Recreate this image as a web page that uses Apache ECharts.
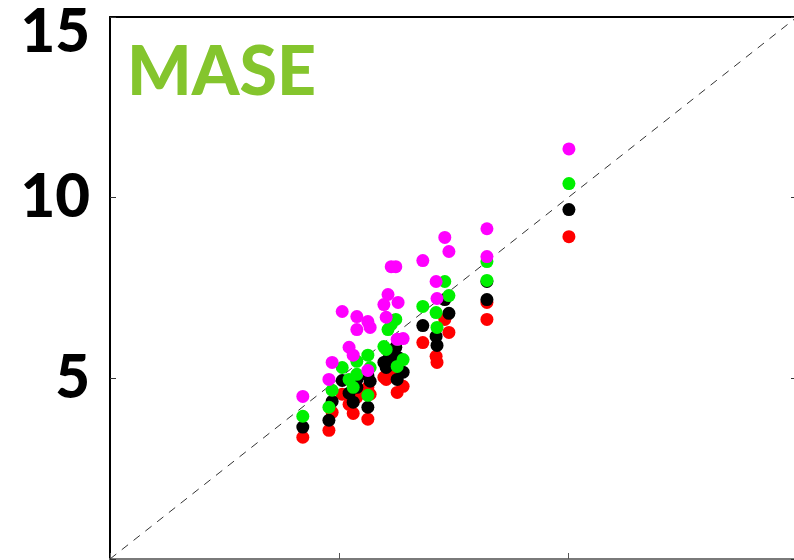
<!DOCTYPE html>
<html>
<head>
<meta charset="utf-8">
<style>
  html, body { margin: 0; padding: 0; background: #fff; }
  #chart { width: 794px; height: 560px; }
</style>
<script src="https://cdn.jsdelivr.net/npm/echarts@6/dist/echarts.min.js"></script>
</head>
<body>
<div id="chart"></div>
<script>
// Reference error (x) for each model and the error of four competing forecasts (y)
var referenceErr = [4.21, 4.78, 4.85, 5.07, 5.22, 5.31, 5.39, 5.63, 5.68, 5.39, 5.63, 5.98, 6.03, 6.07,
                    6.14, 6.24, 6.27, 6.29, 6.40, 6.83, 7.12, 7.14, 7.31, 7.40, 8.23, 8.23, 10.02];
var redErr     = [3.37, 3.56, 4.06, 4.56, 4.28, 4.03, 4.48, 3.87, 4.56, 4.64, 4.75, 5.03, 4.97, 5.19,
                  5.39, 5.52, 4.61, 5.25, 4.78, 5.99, 5.61, 5.44, 6.63, 6.27, 7.10, 6.63, 8.92];
var blackErr   = [3.65, 3.84, 4.36, 4.94, 4.59, 4.34, 4.75, 4.20, 4.92, 4.97, 5.08, 5.44, 5.30, 5.52,
                  5.75, 5.86, 4.97, 5.58, 5.17, 6.46, 6.16, 5.91, 7.18, 6.80, 7.68, 7.18, 9.67];
var greenErr   = [3.95, 4.20, 4.67, 5.30, 4.97, 4.75, 5.11, 4.53, 5.30, 5.47, 5.64, 5.88, 5.80, 6.35,
                  6.49, 6.63, 5.33, 6.08, 5.52, 6.99, 6.82, 6.41, 7.68, 7.29, 8.23, 7.71, 10.39];
var magentaErr = [4.50, 4.97, 5.44, 6.85, 5.86, 5.64, 6.35, 5.22, 6.41, 6.71, 6.57, 7.04, 6.69, 7.32,
                  8.09, 8.09, 6.08, 7.10, 6.10, 8.26, 7.68, 7.21, 8.90, 8.51, 9.14, 8.37, 11.35];

var axisMin = 0, axisMax = 15, axisStep = 5;
var panelTitle = 'MASE';

function pairs(ys) {
  return referenceErr.map(function (x, i) { return [x, ys[i]]; });
}

var chart = echarts.init(document.getElementById('chart'), null, { renderer: 'canvas' });

function dotSeries(name, ys, color) {
  return {
    name: name, type: 'scatter', data: pairs(ys),
    symbol: 'circle', symbolSize: 13,
    itemStyle: { color: color, opacity: 1 },
    silent: true, z: 3
  };
}

var frameAxis = { show: false };

chart.setOption({
  animation: false,
  backgroundColor: '#fff',
  title: {
    text: panelTitle, left: 122, top: 34,
    textStyle: { fontFamily: 'Lato', fontWeight: 900, fontSize: 68, color: '#84c52d' }
  },
  // the panel runs a few pixels past the right edge of the page
  grid: { left: 110, top: 17, width: 687, height: 542, containLabel: false, outerBoundsMode: 'none' },
  xAxis: [{
    type: 'value', min: axisMin, max: axisMax, interval: axisStep, position: 'bottom',
    axisLine: { show: true, onZero: false, lineStyle: { color: '#7a7a7a', width: 2 } },
    axisTick: { show: true, inside: true, length: 6, lineStyle: { color: '#555', width: 1 } },
    axisLabel: frameAxis, splitLine: frameAxis
  }, {
    type: 'value', min: axisMin, max: axisMax, interval: axisStep, position: 'top',
    axisLine: { show: true, onZero: false, lineStyle: { color: '#000', width: 2 } },
    axisTick: frameAxis, axisLabel: frameAxis, splitLine: frameAxis
  }],
  yAxis: [{
    type: 'value', min: axisMin, max: axisMax, interval: axisStep, position: 'left',
    axisLine: { show: true, onZero: false, lineStyle: { color: '#000', width: 2 } },
    axisTick: { show: true, inside: true, length: 6, lineStyle: { color: '#333', width: 1 } },
    axisLabel: {
      margin: 20,
      fontFamily: 'Lato', fontWeight: 900, fontSize: 60, color: '#000',
      formatter: function (v) {
        if (v === axisMin) return '';
        if (v === axisMax) return '{top|' + v + '}';
        return String(v);
      },
      rich: {
        top: { fontFamily: 'Lato', fontWeight: 900, fontSize: 60, color: '#000', padding: [32, 0, 0, 0] }
      }
    },
    splitLine: frameAxis
  }, {
    type: 'value', min: axisMin, max: axisMax, interval: axisStep, position: 'right',
    axisLine: { show: true, onZero: false, lineStyle: { color: '#000', width: 2 } },
    axisTick: { show: true, inside: true, length: 6, lineStyle: { color: '#333', width: 1 } },
    axisLabel: frameAxis, splitLine: frameAxis
  }],
  series: [
    {
      name: 'identity', type: 'line', data: [[axisMin, axisMin], [axisMax, axisMax]],
      showSymbol: false, silent: true, z: 2,
      lineStyle: { color: '#333', width: 1, type: [8, 7] }
    },
    dotSeries('red', redErr, '#ff0000'),
    dotSeries('black', blackErr, '#000000'),
    dotSeries('green', greenErr, '#00f000'),
    dotSeries('magenta', magentaErr, '#ff00ff')
  ]
});
</script>
</body>
</html>
